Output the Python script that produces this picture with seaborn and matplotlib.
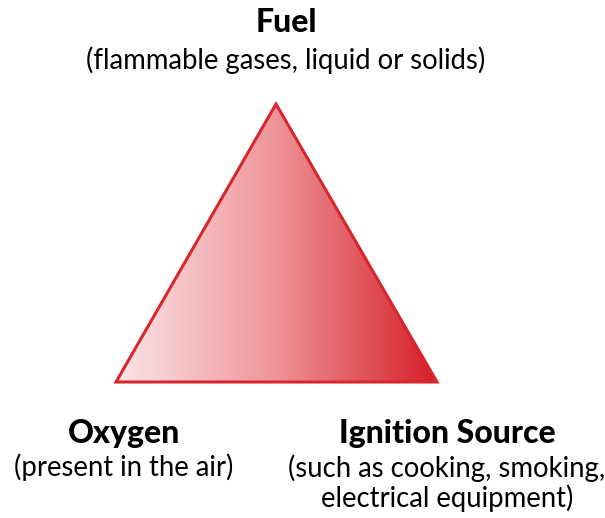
import numpy as np
import matplotlib.pyplot as plt
import seaborn as sns
from matplotlib.patches import Polygon

# triangle corners (pixel space): Fuel on top, Oxygen bottom-left, Ignition bottom-right
corner_x = [276, 116, 437]
corner_y = [104, 382, 382]

titles = ["Fuel", "Oxygen", "Ignition Source"]
subtitles = ["(flammable gases, liquid or solids)",
             "(present in the air)",
             "(such as cooking, smoking,\nelectrical equipment)"]
label_x = [286, 124, 447]
title_y = [22, 433, 433]
sub_y = [60, 467, 483]

sns.set_theme(style="white")
plt.rcParams['font.family'] = ['Lato', 'DejaVu Sans']

fig = plt.figure(figsize=(6.05, 5.18), dpi=100)
ax = fig.add_axes([0, 0, 1, 1])
ax.set_xlim(0, 605)
ax.set_ylim(518, 0)
ax.axis("off")

cmap = sns.blend_palette(["#fbe6e7", "#ee9498", "#d51f27"], as_cmap=True)
grad = np.linspace(0, 1, 256).reshape(1, -1)
x0, x1 = min(corner_x), max(corner_x)
y0, y1 = min(corner_y), max(corner_y)
img = ax.imshow(grad, cmap=cmap, aspect="auto", extent=[x0, x1, y1, y0], zorder=1)

tri = Polygon(list(zip(corner_x, corner_y)), closed=True, facecolor="none",
              edgecolor="#d7262e", linewidth=2.2, joinstyle="miter", zorder=2)
ax.add_patch(tri)
img.set_clip_path(tri)

for t, s, x, ty, sy in zip(titles, subtitles, label_x, title_y, sub_y):
    ax.text(x, ty, t, ha="center", va="center", fontsize=23, fontweight="black", color="black")
    ax.text(x, sy, s, ha="center", va="center", fontsize=19.8, color="black",
            linespacing=1.12)

fig.savefig("out.png", dpi=100)
